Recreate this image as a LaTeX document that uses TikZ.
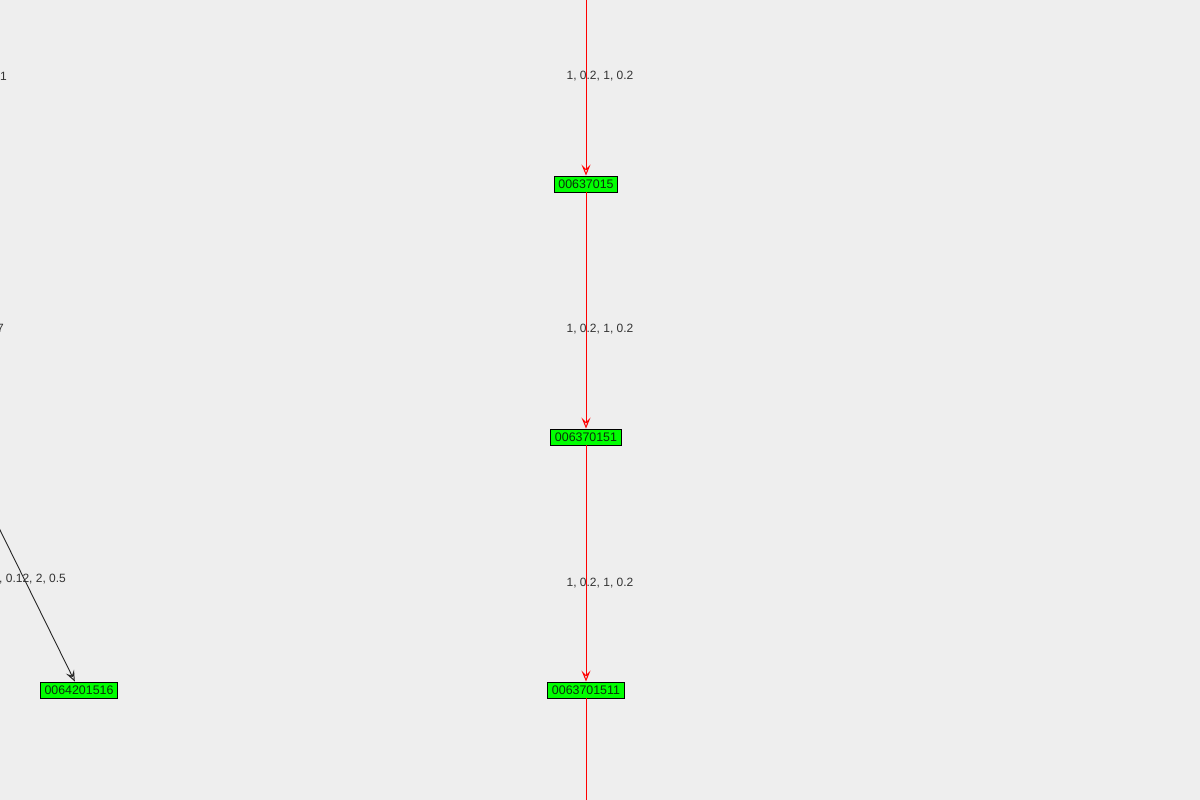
\documentclass[tikz,border=0pt]{standalone}
\usepackage{fontspec}
\setmainfont{Liberation Sans}
\usetikzlibrary{arrows.meta}
\definecolor{bgcol}{HTML}{EEEEEE}
\definecolor{vgreen}{HTML}{00FF00}
\definecolor{vtext}{HTML}{0C300C}
\definecolor{labgray}{HTML}{333333}
\begin{document}
\begin{tikzpicture}[x=1pt,y=-1pt,
  vbox/.style={draw=black, fill=vgreen, line width=0.9pt, inner xsep=4.2pt, inner ysep=0pt,
    minimum height=16pt, font=\fontsize{12.4}{13}\selectfont, text=vtext},
  elab/.style={font=\fontsize{12}{13}\selectfont, text=labgray, inner sep=0pt},
  redge/.style={draw=red, line width=0.9pt, -{Stealth[open,length=11pt,width=9pt,inset=4.5pt,line width=1pt]}},
  bedge/.style={draw=black!85, line width=0.9pt, -{Stealth[open,length=11pt,width=9pt,inset=4.5pt,line width=1pt]}},
  plainred/.style={draw=red, line width=0.9pt}
]
\useasboundingbox (0,0) rectangle (1200,800);
\fill[bgcol] (0,0) rectangle (1200,800);
\clip (0,0) rectangle (1200,800);

% edge labels
\node[elab] (l1) at (600,76.5) {1, 0.2, 1, 0.2};
\node[elab] (l2) at (600,329.5) {1, 0.2, 1, 0.2};
\node[elab] (l3) at (600,583.5) {1, 0.2, 1, 0.2};
\node[elab, anchor=east] (l4) at (7,76.5) {1};
\node[elab, anchor=east] (l5) at (4,328.5) {7};
\node[elab, anchor=west] (l6) at (-1,579.5) {, 0.12, 2, 0.5};

% vertices
\node[vbox] (n1) at (586,184) {00637015};
\node[vbox] (n2) at (586,437) {006370151};
\node[vbox] (n3) at (586,690) {0063701511};
\node[vbox] (n4) at (79,690) {0064201516};

% off-canvas ends
\coordinate (top) at (586,-30);
\coordinate (bot) at (586,830);
\coordinate (src) at (-158,210);

% connectors
\draw[redge] (top) -- (n1);
\draw[redge] (n1) -- (n2);
\draw[redge] (n2) -- (n3);
\draw[plainred] (n3) -- (bot);
\draw[bedge] (src) -- (n4);
\end{tikzpicture}
\end{document}
